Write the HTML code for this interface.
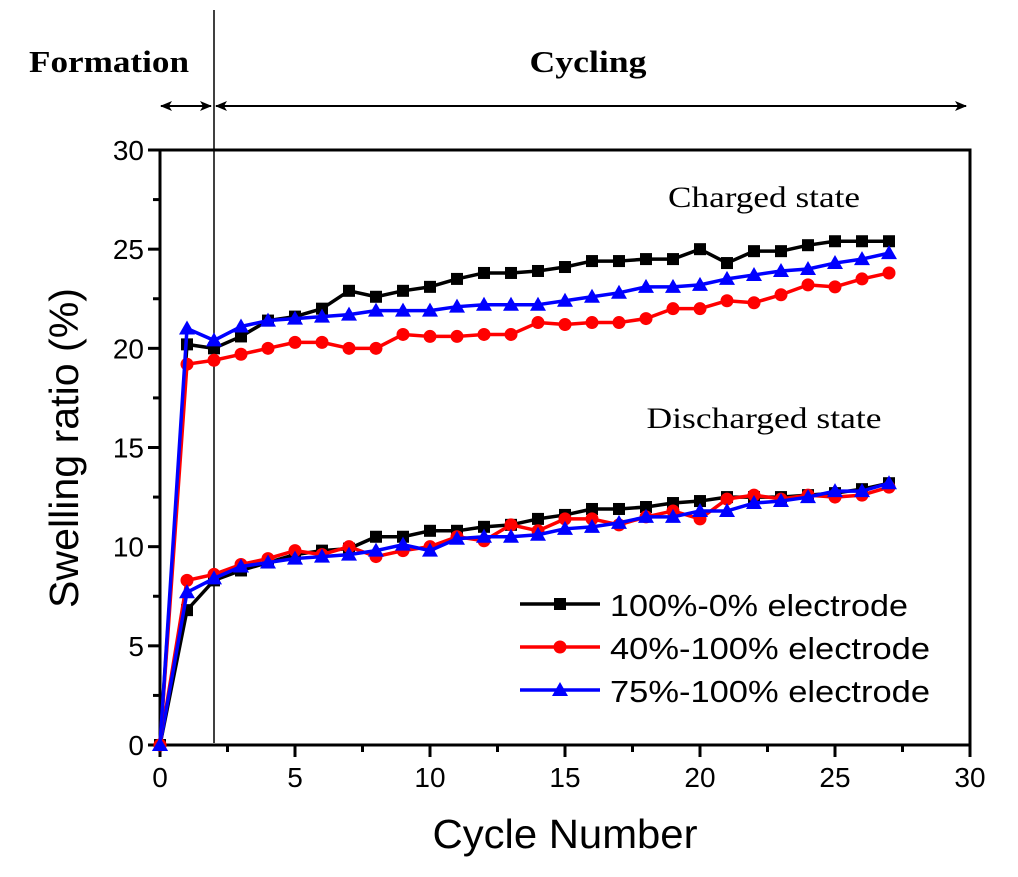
<!DOCTYPE html>
<html><head><meta charset="utf-8"><style>
body{margin:0;background:#fff;}
svg text{font-family:"Liberation Sans",Arial,sans-serif;}
.serif{font-family:"Liberation Serif","Times New Roman",serif !important;}
</style></head><body>
<svg id="chart" width="1018" height="872" xmlns="http://www.w3.org/2000/svg">
<defs>
<marker id="ah" markerWidth="12" markerHeight="10" refX="11" refY="5" orient="auto-start-reverse" markerUnits="userSpaceOnUse"><path d="M0,0 L12,5 L0,10 L3,5 Z" fill="#000"/></marker>
</defs>
<g id="marks"></g>
</svg>
<script>
const cycles=[0,1,2,3,4,5,6,7,8,9,10,11,12,13,14,15,16,17,18,19,20,21,22,23,24,25,26,27];
const chgBlack=[0,20.2,20.0,20.6,21.4,21.6,22.0,22.9,22.6,22.9,23.1,23.5,23.8,23.8,23.9,24.1,24.4,24.4,24.5,24.5,25.0,24.3,24.9,24.9,25.2,25.4,25.4,25.4];
const chgRed=[0,19.2,19.4,19.7,20.0,20.3,20.3,20.0,20.0,20.7,20.6,20.6,20.7,20.7,21.3,21.2,21.3,21.3,21.5,22.0,22.0,22.4,22.3,22.7,23.2,23.1,23.5,23.8];
const chgBlue=[0,21.0,20.4,21.1,21.4,21.5,21.6,21.7,21.9,21.9,21.9,22.1,22.2,22.2,22.2,22.4,22.6,22.8,23.1,23.1,23.2,23.5,23.7,23.9,24.0,24.3,24.5,24.8];
const disBlack=[0,6.8,8.3,8.8,9.2,9.6,9.8,9.9,10.5,10.5,10.8,10.8,11.0,11.1,11.4,11.6,11.9,11.9,12.0,12.2,12.3,12.5,12.5,12.5,12.6,12.7,12.9,13.2];
const disRed=[0,8.3,8.6,9.1,9.4,9.8,9.6,10.0,9.5,9.8,10.0,10.5,10.3,11.1,10.8,11.4,11.4,11.1,11.5,11.8,11.4,12.4,12.6,12.4,12.6,12.5,12.6,13.0];
const disBlue=[0,7.7,8.4,9.0,9.2,9.4,9.5,9.6,9.8,10.1,9.8,10.4,10.5,10.5,10.6,10.9,11.0,11.2,11.5,11.5,11.8,11.8,12.2,12.3,12.5,12.8,12.8,13.2];
const xTicks=[0,5,10,15,20,25,30];
const yTicks=[0,5,10,15,20,25,30];
const X0=160,X1=970,Y0=745,Y1=150;
const xs=v=>X0+(X1-X0)*v/30, ys=v=>Y0-(Y0-Y1)*v/30;
const NS="http://www.w3.org/2000/svg";
const g=document.getElementById('marks');
function mk(tag,attrs,parent){const e=document.createElementNS(NS,tag);for(const k in attrs)e.setAttribute(k,attrs[k]);(parent||g).appendChild(e);return e;}
let fr=mk('rect',{x:X0,y:Y1,width:X1-X0,height:Y0-Y1,fill:'none',stroke:'#000','stroke-width':3});


for(let i=0;i<=12;i++){const v=i*2.5;const major=i%2==0;
 let t=mk('line',{x1:xs(v),x2:xs(v),y1:Y0,y2:Y0+(major?12:7),stroke:'#000','stroke-width':3});
 
 
 let u=mk('line',{x1:X0,x2:X0-(major?12:7),y1:ys(v),y2:ys(v),stroke:'#000','stroke-width':3});
 
 }
xTicks.forEach(v=>{let t=mk('text',{x:xs(v),y:Y0+42,'font-size':28,'text-anchor':'middle'});t.textContent=v;
 
 });
yTicks.forEach(v=>{let t=mk('text',{x:X0-16,y:ys(v)+10,'font-size':28,'text-anchor':'end'});t.textContent=v;
 
 });
let xt=mk('text',{x:565,y:848,'font-size':41,'text-anchor':'middle',textLength:265,lengthAdjust:'spacingAndGlyphs'});xt.textContent='Cycle Number';


let yt=mk('text',{x:0,y:0,'font-size':41,'text-anchor':'middle',transform:'translate(78,448) rotate(-90)',textLength:320,lengthAdjust:'spacingAndGlyphs'});yt.textContent='Swelling ratio (%)';


let dv=mk('line',{x1:xs(2),x2:xs(2),y1:10,y2:743,stroke:'#000','stroke-width':1.5});


let a1=mk('line',{x1:161,x2:211,y1:106,y2:106,stroke:'#000','stroke-width':2,'marker-start':'url(#ah)','marker-end':'url(#ah)'});


let a2=mk('line',{x1:216,x2:966,y1:106,y2:106,stroke:'#000','stroke-width':2,'marker-start':'url(#ah)','marker-end':'url(#ah)'});


function lab(txt,x,y,size,bold,len,name){let t=mk('text',{x:x,y:y,'font-size':size,'text-anchor':'middle','font-weight':bold?'bold':'normal',class:'serif',textLength:len,lengthAdjust:'spacingAndGlyphs'});t.textContent=txt;
 
 }
lab('Formation',109,72,31,true,160,'formation-label');
lab('Cycling',588,72,31,true,117,'cycling-label');
lab('Charged state',764,207,30,false,192,'charged-state-label');
lab('Discharged state',764,428,30,false,235,'discharged-state-label');
function marker(type,x,y,color,parent){
 if(type==='sq')return mk('rect',{x:x-6,y:y-6,width:12,height:12,fill:color},parent);
 if(type==='ci')return mk('circle',{cx:x,cy:y,r:6.5,fill:color},parent);
 return mk('polygon',{points:`${x},${y-8} ${x-8},${y+6} ${x+8},${y+6}`,fill:color},parent);}
function series(vals,color,type,name){
 const sg=mk('g',{});
 
 
 mk('polyline',{points:cycles.map((c,i)=>xs(c)+','+ys(vals[i])).join(' '),fill:'none',stroke:color,'stroke-width':3.5,'stroke-linejoin':'round'},sg);
 cycles.forEach((c,i)=>{const m=marker(type,xs(c),ys(vals[i]),color,sg);
  
  });}
series(disBlack,'#000','sq','discharged-100-0');
series(disRed,'#f00','ci','discharged-40-100');
series(disBlue,'#00f','tr','discharged-75-100');
series(chgBlack,'#000','sq','charged-100-0');
series(chgRed,'#f00','ci','charged-40-100');
series(chgBlue,'#00f','tr','charged-75-100');
const legNames=['100%-0% electrode','40%-100% electrode','75%-100% electrode'];
const legLens=[298,320,320];
const legColors=['#000','#f00','#00f'];const legTypes=['sq','ci','tr'];
legNames.forEach((n,i)=>{const y=604+i*43;
 const lg=mk('g',{});
 
 
 mk('line',{x1:520,x2:600,y1:y,y2:y,stroke:legColors[i],'stroke-width':3.5},lg);
 marker(legTypes[i],560,y,legColors[i],lg);
 const t=mk('text',{x:610,y:y+12,'font-size':31,textLength:legLens[i],lengthAdjust:'spacingAndGlyphs'},lg);t.textContent=n;});
</script>
</body></html>
